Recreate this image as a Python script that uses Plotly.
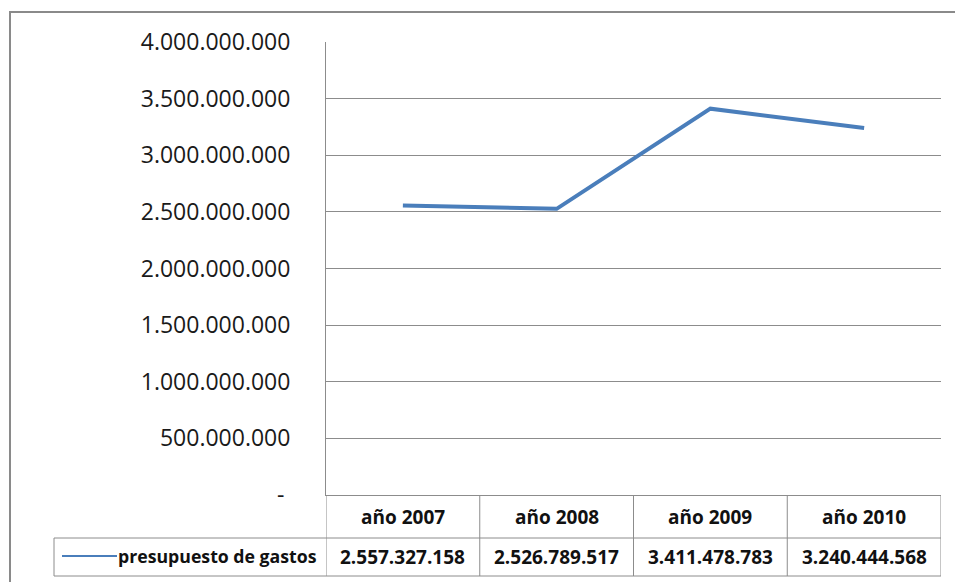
import plotly.graph_objects as go

# Budget by year
categories = ["año 2007", "año 2008", "año 2009", "año 2010"]
values = [2557327158, 2526789517, 3411478783, 3240444568]
series_name = "presupuesto de gastos"
tick_values = [0, 500000000, 1000000000, 1500000000, 2000000000,
               2500000000, 3000000000, 3500000000, 4000000000]


def fmt(v):
    return f"{v:,}".replace(",", ".")


tick_text = ["-\u00a0" if v == 0 else fmt(v) for v in tick_values]

LINE_COLOR = "#4a7ebb"
GRID = "#8c8c8c"
FONT = "Open Sans"

W, H = 955, 582
L, R, T, B = 326, 14, 42, 87
plot_h = H - T - B
plot_w = W - L - R


def py(px):
    # pixel row -> paper y
    return (H - B - px) / plot_h


def pxx(px):
    # pixel column -> paper x
    return (px - L) / plot_w


fig = go.Figure()
fig.add_trace(go.Scatter(
    x=categories, y=values, mode="lines", name=series_name,
    line=dict(color=LINE_COLOR, width=4), showlegend=False,
))

shapes = []
# outer chart frame
shapes.append(dict(type="rect", xref="paper", yref="paper",
                   x0=pxx(10), x1=pxx(990), y0=py(620), y1=py(12),
                   line=dict(color="#8a8a8a", width=2), layer="below"))

# data table grid
row_mid = py(538)
row_bot = py(576)
n = len(categories)
for i in range(n + 1):
    shapes.append(dict(type="line", xref="x", yref="paper",
                       x0=i - 0.5, x1=i - 0.5, y0=0, y1=row_bot,
                       line=dict(color=GRID, width=1)))
shapes.append(dict(type="line", xref="paper", yref="paper",
                   x0=pxx(54), x1=1, y0=row_mid, y1=row_mid,
                   line=dict(color=GRID, width=1)))
shapes.append(dict(type="line", xref="paper", yref="paper",
                   x0=pxx(54), x1=1, y0=row_bot, y1=row_bot,
                   line=dict(color=GRID, width=1)))
shapes.append(dict(type="line", xref="paper", yref="paper",
                   x0=pxx(54), x1=pxx(54), y0=row_mid, y1=row_bot,
                   line=dict(color=GRID, width=1)))
# legend key inside the table
shapes.append(dict(type="line", xref="paper", yref="paper",
                   x0=pxx(62), x1=pxx(117), y0=py(556), y1=py(556),
                   line=dict(color=LINE_COLOR, width=2)))

annotations = []
cell_font = dict(family=FONT, size=19, color="#111111")
for cat, v in zip(categories, values):
    annotations.append(dict(x=cat, xref="x", y=py(517), yref="paper",
                            text=f"<b>{cat}</b>", showarrow=False,
                            font=cell_font, xanchor="center", yanchor="middle"))
    annotations.append(dict(x=cat, xref="x", y=py(557), yref="paper",
                            text=f"<b>{fmt(v)}</b>", showarrow=False,
                            font=cell_font, xanchor="center", yanchor="middle"))
annotations.append(dict(x=pxx(319), xref="paper", y=py(556), yref="paper",
                        text=f"<b>{series_name}</b>", showarrow=False,
                        font=dict(family=FONT, size=17.7, color="#111111"),
                        xanchor="right", yanchor="middle"))

fig.update_layout(
    width=W, height=H,
    margin=dict(l=L, r=R, t=T, b=B),
    paper_bgcolor="white", plot_bgcolor="white",
    font=dict(family=FONT, color="#1a1a1a"),
    shapes=shapes, annotations=annotations,
    xaxis=dict(type="category", range=[-0.5, n - 0.5],
               showticklabels=False, showgrid=False, zeroline=False,
               showline=True, linecolor=GRID, linewidth=1, ticks=""),
    yaxis=dict(range=[0, 4000000000], tickvals=tick_values, ticktext=tick_text,
               showgrid=True, gridcolor=GRID, gridwidth=1, zeroline=False,
               showline=True, linecolor=GRID, linewidth=1, ticks="",
               ticklabelstandoff=30,
               tickfont=dict(family=FONT, size=23, color="#1a1a1a")),
)

fig.write_html("out.html")
